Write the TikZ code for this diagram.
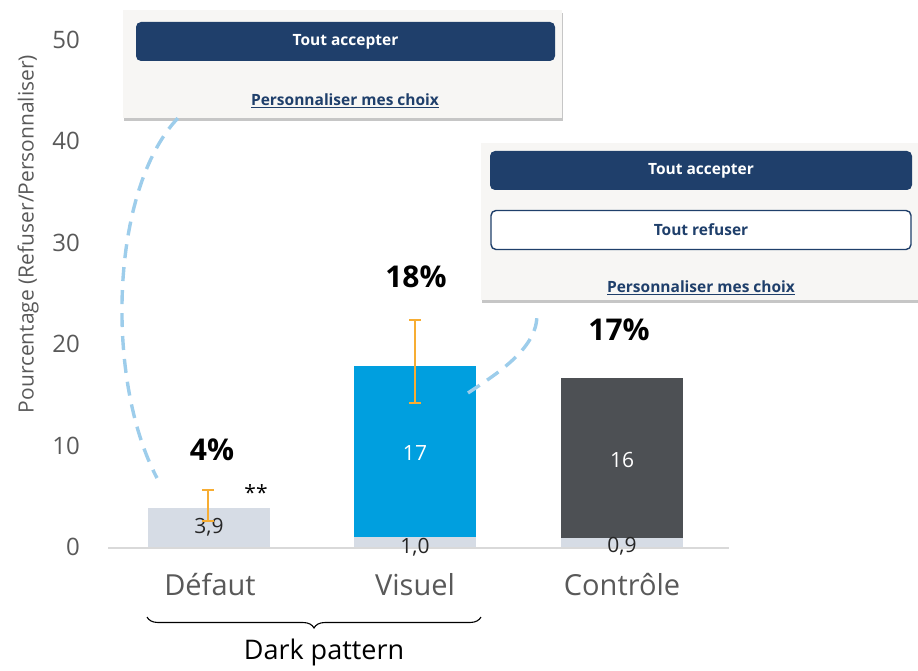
\documentclass[tikz,border=0pt]{standalone}
\usepackage{fontspec}
\setmainfont{Open Sans}
\usetikzlibrary{arrows.meta,decorations.pathreplacing,shadows}

\definecolor{navy}{HTML}{1F3F6B}
\definecolor{lightbar}{HTML}{D6DCE5}
\definecolor{bluebar}{HTML}{009FDF}
\definecolor{darkbar}{HTML}{4D5054}
\definecolor{errcol}{HTML}{F7AD33}
\definecolor{dashcol}{HTML}{9DCDEB}
\definecolor{axisgray}{HTML}{595959}
\definecolor{basegray}{HTML}{D9D9D9}
\definecolor{shotbg}{HTML}{F7F6F4}

\tikzset{
  barbox/.style={rectangle, inner sep=0pt, minimum width=122pt, anchor=south},
  valtext/.style={text=black!85, font=\fontsize{21}{24}\selectfont},
  intext/.style={text=white, font=\fontsize{21}{24}\selectfont},
  pcttext/.style={font=\fontsize{30}{34}\selectfont\bfseries},
  cattext/.style={text=axisgray, font=\fontsize{29}{33}\selectfont},
  ticktext/.style={text=axisgray, anchor=east, inner sep=0pt, font=\fontsize{24}{27}\selectfont},
  errbar/.style={errcol, line width=2.4pt, {Bar[width=12pt]}-{Bar[width=12pt]}},
  shot/.style={rectangle, fill=shotbg, inner sep=0pt,
    drop shadow={shadow xshift=1pt, shadow yshift=-3pt, opacity=0.45}},
  okbutton/.style={rectangle, rounded corners=5pt, fill=navy, text=white,
    minimum height=39pt, font=\fontsize{15.5}{18}\selectfont\bfseries},
  nobutton/.style={rectangle, rounded corners=5pt, draw=navy, line width=1.4pt,
    fill=white, text=navy, minimum height=39pt, font=\fontsize{15.5}{18}\selectfont\bfseries},
  linktext/.style={text=navy, font=\fontsize{15.5}{18}\selectfont\bfseries},
  link/.style={dashcol, line width=3.4pt, dash pattern=on 14pt off 9pt},
}

\begin{document}
\begin{tikzpicture}[x=1pt, y=-1pt]
  \useasboundingbox (0,0) rectangle (918,671);

  % axis
  \draw[basegray, line width=1.8pt] (108,548) -- (729,548);
  \foreach \v in {0,...,5}
    \node[ticktext] (tick\v) at (80, 547-101.4*\v) {\the\numexpr\v*10\relax};
  \node[text=axisgray, font=\fontsize{21}{24}\selectfont, rotate=90] (ytitle) at (28,234)
    {Pourcentage (Refuser/Personnaliser)};

  % bars
  \node[barbox, fill=lightbar, minimum height=39pt] (defbar) at (209,547) {};
  \node[barbox, fill=lightbar, minimum height=10pt] (visbase) at (415,547) {};
  \node[barbox, fill=bluebar, minimum height=171pt] (visbar) at (415,537) {};
  \node[barbox, fill=lightbar, minimum height=9pt] (conbase) at (622,547) {};
  \node[barbox, fill=darkbar, minimum height=160pt] (conbar) at (622,538) {};

  \node[valtext] (defval) at (209,527) {3,9};
  \node[valtext] (visval) at (415,547) {1,0};
  \node[valtext] (conval) at (622,546) {0,9};
  \node[intext] (visin) at (415,453) {17};
  \node[intext] (conin) at (622,460) {16};

  % error bars
  \draw[errbar] (208,489) -- (208,522);
  \draw[errbar] (415,319) -- (415,404);
  \node[font=\fontsize{21}{24}\selectfont] (stars) at (256,493) {**};

  \node[pcttext] (defpct) at (212,450) {4\%};
  \node[pcttext] (vispct) at (416,277) {18\%};
  \node[pcttext] (conpct) at (619,330) {17\%};

  \node[cattext] (defcat) at (210,585) {Défaut};
  \node[cattext] (viscat) at (415,585) {Visuel};
  \node[cattext] (concat) at (622,585) {Contrôle};

  % brace
  \coordinate (bracel) at (147,617);
  \coordinate (bracer) at (481,617);
  \draw[line width=1.1pt, decorate, decoration={brace, mirror, amplitude=11pt}]
    (bracel) -- (bracer);
  \node[font=\fontsize{27}{30}\selectfont] (dark) at (324,652) {Dark pattern};

  % screenshots
  \node[shot, minimum width=439pt, minimum height=108pt] (shot1) at (342.5,64) {};
  \node[okbutton, minimum width=419pt] (acc1) at (345.5,41.5) {Tout accepter};
  \node[linktext] (pers1) at (345,101) {\underline{Personnaliser mes choix}};

  \node[shot, minimum width=437pt, minimum height=157pt] (shot2) at (699.5,221.5) {};
  \node[okbutton, minimum width=422pt] (acc2) at (701,170.5) {Tout accepter};
  \node[nobutton, minimum width=420pt] (ref2) at (701,230) {Tout refuser};
  \node[linktext] (pers2) at (701,288) {\underline{Personnaliser mes choix}};

  % links
  \coordinate (defend) at (157,478);
  \coordinate (visend) at (468,393);
  \draw[link] ([xshift=55pt]shot1.south west) .. controls (110,190) and (105,380) .. (defend);
  \draw[link] (visend) .. controls (495,375) and (535,350) .. ([xshift=56pt, yshift=-18pt]shot2.south west);
\end{tikzpicture}
\end{document}
